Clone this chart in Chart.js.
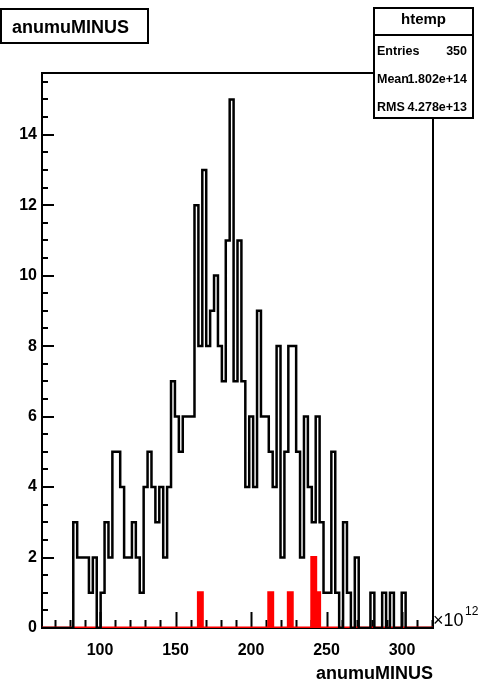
<!DOCTYPE html>
<html>
<head>
<meta charset="utf-8">
<script src="https://cdn.jsdelivr.net/npm/chart.js@4/dist/chart.umd.min.js"></script>
<style>
  html, body { margin: 0; padding: 0; background: #ffffff; }
  canvas { display: block; }
</style>
</head>
<body>
<canvas id="c" width="488" height="683" style="width:488px;height:683px"></canvas>
<script>
// htemp binning, x in units of 1e12
const binLow = 61.6;
const binHigh = 320.5;
const nBins = 100;

// anumuMINUS, all entries (black)
const anumuCounts = [
  0, 0, 0, 0, 0, 0, 0, 0, 3, 2,
  2, 2, 1, 2, 0, 1, 3, 2, 5, 5,
  4, 2, 2, 3, 2, 1, 4, 5, 4, 3,
  4, 2, 4, 7, 6, 5, 6, 6, 6, 12,
  8, 13, 8, 9, 10, 8, 7, 11, 15, 7,
  11, 7, 4, 6, 4, 9, 6, 6, 5, 4,
  8, 2, 5, 8, 8, 5, 2, 6, 4, 3,
  6, 3, 1, 1, 5, 1, 0, 3, 1, 0,
  2, 0, 0, 0, 1, 0, 0, 1, 0, 1,
  0, 0, 1, 0, 0, 0, 0, 0, 0, 0
];

// anumuMINUS, selected entries (red)
const selectedCounts = [
  0, 0, 0, 0, 0, 0, 0, 0, 0, 0,
  0, 0, 0, 0, 0, 0, 0, 0, 0, 0,
  0, 0, 0, 0, 0, 0, 0, 0, 0, 0,
  0, 0, 0, 0, 0, 0, 0, 0, 0, 0,
  1, 0, 0, 0, 0, 0, 0, 0, 0, 0,
  0, 0, 0, 0, 0, 0, 0, 0, 1, 0,
  0, 0, 0, 1, 0, 0, 0, 0, 0, 2,
  1, 0, 0, 0, 0, 0, 0, 0, 0, 0,
  0, 0, 0, 0, 0, 0, 0, 0, 0, 0,
  0, 0, 0, 0, 0, 0, 0, 0, 0, 0
];

const xTickValues = [100, 150, 200, 250, 300];
const xTickLabels = ['100', '150', '200', '250', '300'];
const yTickValues = [0, 2, 4, 6, 8, 10, 12, 14];
const yTickLabels = ['0', '2', '4', '6', '8', '10', '12', '14'];
const xMinorStep = 10;
const yMinorStep = 0.5;
const yMax = 15.75;

const statsRows = [
  ['Entries', '350'],
  ['Mean', '1.802e+14'],
  ['RMS', '4.278e+13']
];

const FONT = '"Liberation Sans", Arial, Helvetica, sans-serif';

// left-edge step points of a histogram
function stepPoints(counts) {
  const w = (binHigh - binLow) / nBins;
  const pts = counts.map((c, i) => ({ x: binLow + i * w, y: c }));
  pts.push({ x: binHigh, y: 0 });
  return pts;
}

// inward tick marks and the frame, ROOT style
const framePlugin = {
  id: 'rootFrame',
  beforeDatasetsDraw(chart) {
    const { ctx, chartArea: a, scales } = chart;
    const xs = scales.x, ys = scales.y;
    ctx.save();
    ctx.strokeStyle = '#000';
    ctx.lineWidth = 2;
    ctx.beginPath();
    const x0 = Math.ceil(binLow / xMinorStep) * xMinorStep;
    for (let v = x0; v <= binHigh; v += xMinorStep) {
      const px = Math.round(xs.getPixelForValue(v)) + 0.5;
      const len = xTickValues.includes(v) ? 16 : 8;
      ctx.moveTo(px, a.bottom);
      ctx.lineTo(px, a.bottom - len);
    }
    for (let v = 0; v <= yMax; v += yMinorStep) {
      const py = Math.round(ys.getPixelForValue(v));
      const len = yTickValues.includes(v) ? 12 : 6;
      ctx.moveTo(a.left, py);
      ctx.lineTo(a.left + len, py);
    }
    ctx.stroke();
    ctx.lineWidth = 2;
    ctx.strokeRect(a.left, a.top, a.right - a.left, a.bottom - a.top);
    ctx.restore();
  },
  afterDraw(chart) {
    const { ctx, chartArea: a } = chart;
    ctx.save();
    ctx.lineWidth = 2;
    ctx.strokeStyle = '#000';
    ctx.fillStyle = '#000';

    // title box
    ctx.fillStyle = '#fff';
    ctx.fillRect(1, 9, 147, 34);
    ctx.strokeRect(1, 9, 147, 34);
    ctx.fillStyle = '#000';
    ctx.font = 'bold 18px ' + FONT;
    ctx.textAlign = 'left';
    ctx.textBaseline = 'middle';
    ctx.fillText('anumuMINUS', 12, 28);

    // statistics box
    const bx = 374, by = 8, bw = 99, bh = 110;
    ctx.fillStyle = '#fff';
    ctx.fillRect(bx, by, bw, bh);
    ctx.strokeRect(bx, by, bw, bh);
    ctx.beginPath();
    ctx.moveTo(bx, 35);
    ctx.lineTo(bx + bw, 35);
    ctx.stroke();
    ctx.fillStyle = '#000';
    ctx.font = 'bold 15px ' + FONT;
    ctx.textAlign = 'center';
    ctx.fillText('htemp', bx + bw / 2, 20);
    ctx.font = 'bold 12.5px ' + FONT;
    const rowY = [52, 80, 108];
    statsRows.forEach((r, i) => {
      ctx.textAlign = 'left';
      ctx.fillText(r[0], 377, rowY[i]);
      ctx.textAlign = 'right';
      ctx.fillText(r[1], 467, rowY[i]);
    });

    // axis exponent
    ctx.textAlign = 'left';
    ctx.font = '18px ' + FONT;
    ctx.fillText('\u00d710', 433, 621);
    ctx.font = '12px ' + FONT;
    ctx.fillText('12', 465, 612);

    // x-axis title
    ctx.font = 'bold 18px ' + FONT;
    ctx.textAlign = 'right';
    ctx.fillText('anumuMINUS', a.right, 674);
    ctx.restore();
  }
};

new Chart(document.getElementById('c'), {
  type: 'line',
  data: {
    datasets: [
      {
        data: stepPoints(anumuCounts),
        stepped: true,
        borderColor: '#000000',
        borderWidth: 2.5,
        fill: false,
        pointRadius: 0,
        borderJoinStyle: 'miter'
      },
      {
        data: stepPoints(selectedCounts),
        stepped: true,
        borderColor: '#ff0000',
        backgroundColor: '#ff0000',
        borderWidth: 3,
        fill: 'origin',
        pointRadius: 0,
        borderJoinStyle: 'miter'
      }
    ]
  },
  options: {
    responsive: false,
    animation: false,
    events: [],
    layout: { padding: { left: 0, top: 73, right: 55, bottom: 0 } },
    plugins: { legend: { display: false }, tooltip: { enabled: false }, title: { display: false } },
    scales: {
      x: {
        type: 'linear',
        min: binLow,
        max: binHigh,
        afterBuildTicks: (s) => { s.ticks = xTickValues.map(v => ({ value: v })); },
        afterFit: (s) => { s.height = 55; },
        grid: { display: false, drawTicks: false },
        border: { display: false },
        ticks: {
          autoSkip: false,
          maxRotation: 0,
          padding: 13,
          color: '#000',
          font: { family: FONT, size: 16, weight: 'bold' },
          callback: (v) => xTickLabels[xTickValues.indexOf(v)]
        }
      },
      y: {
        type: 'linear',
        min: 0,
        max: yMax,
        afterBuildTicks: (s) => { s.ticks = yTickValues.map(v => ({ value: v })); },
        afterFit: (s) => { s.width = 42; },
        grid: { display: false, drawTicks: false },
        border: { display: false },
        ticks: {
          autoSkip: false,
          padding: 5,
          color: '#000',
          font: { family: FONT, size: 16, weight: 'bold' },
          callback: (v) => yTickLabels[yTickValues.indexOf(v)]
        }
      }
    }
  },
  plugins: [framePlugin]
});
</script>
</body>
</html>
